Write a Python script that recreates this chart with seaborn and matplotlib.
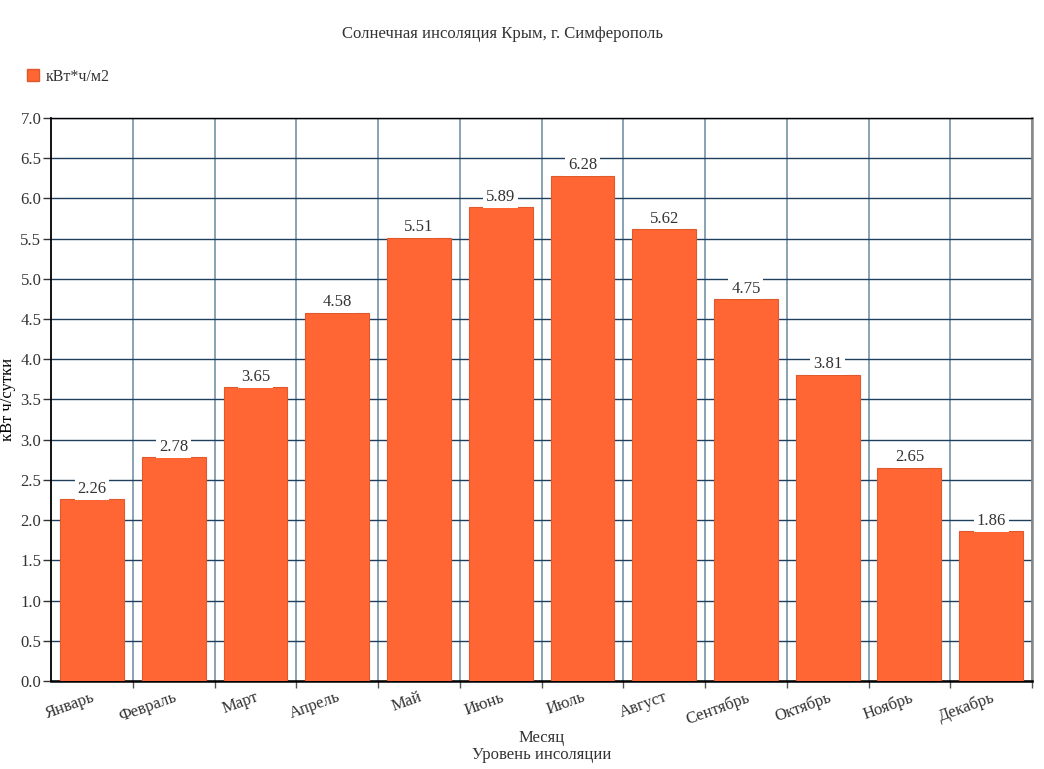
import matplotlib
matplotlib.use("Agg")
import matplotlib.pyplot as plt
from matplotlib.patches import Patch
import seaborn as sns
import pandas as pd
import numpy as np

months = ["Январь", "Февраль", "Март", "Апрель", "Май", "Июнь",
          "Июль", "Август", "Сентябрь", "Октябрь", "Ноябрь", "Декабрь"]
insolation = [2.26, 2.78, 3.65, 4.58, 5.51, 5.89, 6.28, 5.62, 4.75, 3.81, 2.65, 1.86]
y_ticks = [0.0, 0.5, 1.0, 1.5, 2.0, 2.5, 3.0, 3.5, 4.0, 4.5, 5.0, 5.5, 6.0, 6.5, 7.0]

BAR_COLOR = "#ff6633"
EDGE_COLOR = "#e0592c"
TEXT_COLOR = "#333333"

df = pd.DataFrame({"month": months, "value": insolation})

sns.set_style("white")
plt.rcParams["font.family"] = ["Liberation Serif", "DejaVu Serif"]

fig = plt.figure(figsize=(10.44, 7.69), dpi=100)
ax = fig.add_axes([0.0489, 0.1144, 0.9396, 0.7322])

sns.barplot(data=df, x="month", y="value", color=BAR_COLOR, saturation=1,
            width=0.78, edgecolor=EDGE_COLOR, linewidth=0.8, ax=ax, zorder=3)

ax.set_xlim(-0.5, len(months) - 0.5)
ax.set_ylim(0, 7.0)
ax.set_yticks(y_ticks)
ax.set_yticklabels([f"{t:.1f}" for t in y_ticks], fontsize=12, color=TEXT_COLOR)

# category boundaries: grid + tick marks
ax.set_xticks(np.arange(len(months)))
ax.set_xticklabels(months, rotation=20, ha="right", rotation_mode="anchor",
                   fontsize=12, color=TEXT_COLOR)
ax.set_xticks(np.arange(len(months)) + 0.5, minor=True)
ax.tick_params(axis="x", which="major", length=0, pad=6)
ax.tick_params(axis="x", which="minor", length=5, width=1, color="#555555", bottom=True)
ax.tick_params(axis="y", which="major", length=6, width=1, color="#333333", left=True, pad=1)
ax.grid(axis="x", which="minor", color="#7f9cad", linewidth=1.3, zorder=0)
ax.grid(axis="y", which="major", color="#1e3f5e", linewidth=1.0, zorder=0)
ax.set_axisbelow(True)

for side in ["left", "bottom", "top"]:
    ax.spines[side].set_color("black")
ax.spines["left"].set_linewidth(1.3)
ax.spines["bottom"].set_linewidth(1.8)
ax.spines["top"].set_linewidth(1.0)
ax.spines["right"].set_color("#888888")
ax.spines["right"].set_linewidth(1.8)

for i, v in enumerate(insolation):
    ax.text(i, v + 0.03, f"{v:.2f}", ha="center", va="bottom", fontsize=12,
            color=TEXT_COLOR, zorder=5,
            bbox=dict(facecolor="white", edgecolor="none", pad=2.0))

ax.set_xlabel("Месяц\nУровень инсоляции", fontsize=12, color=TEXT_COLOR, labelpad=2,
              linespacing=1.05)
ax.set_ylabel("кВт ч/сутки", fontsize=12, color="black", labelpad=3)

fig.text(0.481, 0.956, "Солнечная инсоляция Крым, г. Симферополь", ha="center",
         va="center", fontsize=12, color=TEXT_COLOR)

handles = [Patch(facecolor=BAR_COLOR, edgecolor=EDGE_COLOR, label="кВт*ч/м2")]
fig.legend(handles=handles, loc="center left", bbox_to_anchor=(0.012, 0.900),
           frameon=False, fontsize=11.5, handlelength=0.75, handleheight=0.75,
           handletextpad=0.4, labelcolor=TEXT_COLOR)

fig.savefig("out.png", dpi=100)
